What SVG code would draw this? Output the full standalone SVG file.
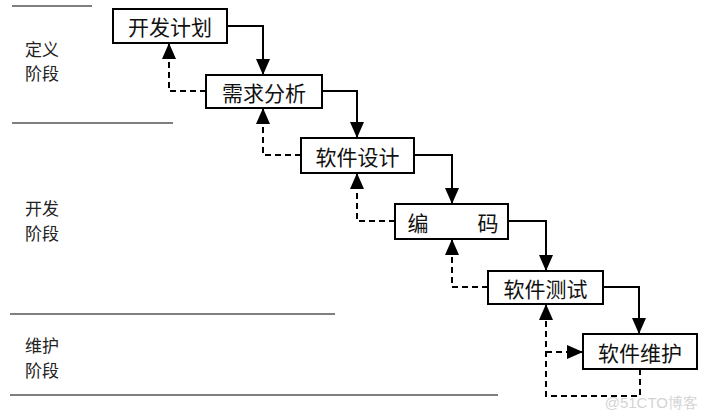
<svg xmlns="http://www.w3.org/2000/svg" width="706" height="420" viewBox="0 0 706 420">
<style>
.box{fill:#fff;stroke:#000;stroke-width:2}
.lbl{font-family:"Noto Sans CJK SC",sans-serif;font-size:21px;fill:#111;text-anchor:middle;dominant-baseline:central}
.phase{font-family:"Noto Sans CJK SC",sans-serif;font-size:17px;fill:#222}
.sep{stroke:#000;stroke-width:1.2}
.solid{fill:none;stroke:#000;stroke-width:2;marker-end:url(#ah)}
.dash{fill:none;stroke:#000;stroke-width:2;stroke-dasharray:6,4;marker-end:url(#ah)}
</style>
<defs>
<marker id="ah" markerUnits="userSpaceOnUse" markerWidth="16" markerHeight="14" refX="16" refY="7" orient="auto" viewBox="0 0 16 14">
<path d="M0,0 L16,7 L0,14 Z" fill="#000"/>
</marker>
</defs>
<rect width="706" height="420" fill="#fff"/>
<g id="phases">
<line class="sep" x1="12" y1="6" x2="92" y2="6"/>
<line class="sep" x1="12" y1="123" x2="173" y2="123"/>
<line class="sep" x1="10" y1="314" x2="335" y2="314"/>
<line class="sep" x1="10" y1="395" x2="498" y2="395"/>
<text class="phase" x="25" y="56">定义</text>
<text class="phase" x="25" y="80">阶段</text>
<text class="phase" x="25" y="215">开发</text>
<text class="phase" x="25" y="240">阶段</text>
<text class="phase" x="25" y="352">维护</text>
<text class="phase" x="25" y="377">阶段</text>
</g>
<g id="connectors">
<path class="solid" d="M227,26 H263 V75"/>
<path class="solid" d="M322,91 H357 V138"/>
<path class="solid" d="M414,155 H452 V204"/>
<path class="solid" d="M508,221 H546 V271"/>
<path class="solid" d="M603,287 H639 V334"/>
<path class="dash" d="M206,91 H169 V43"/>
<path class="dash" d="M301,155 H263 V108"/>
<path class="dash" d="M395,221 H357 V173"/>
<path class="dash" d="M488,287 H452 V239"/>
<path class="dash" d="M640,369 V396 H546 V304"/>
<path class="dash" d="M546,352 H583"/>
</g>
<g id="n1"><rect class="box" x="113" y="9" width="114" height="34"/><text class="lbl" x="170" y="26">开发计划</text></g>
<g id="n2"><rect class="box" x="206" y="75" width="116" height="33"/><text class="lbl" x="264" y="91.5">需求分析</text></g>
<g id="n3"><rect class="box" x="301" y="138" width="113" height="35"/><text class="lbl" x="357.5" y="155.5">软件设计</text></g>
<g id="n4"><rect class="box" x="395" y="204" width="113" height="35"/><text class="lbl" x="451.5" y="221.5"><tspan x="418">编</tspan><tspan x="488">码</tspan></text></g>
<g id="n5"><rect class="box" x="488" y="271" width="115" height="33"/><text class="lbl" x="545.5" y="287.5">软件测试</text></g>
<g id="n6"><rect class="box" x="583" y="334" width="114" height="35"/><text class="lbl" x="640" y="351.5">软件维护</text></g>
<text x="698" y="408" font-family="Liberation Sans, sans-serif" font-size="15" fill="#d4d4d4" text-anchor="end">@51CTO博客</text>
</svg>
